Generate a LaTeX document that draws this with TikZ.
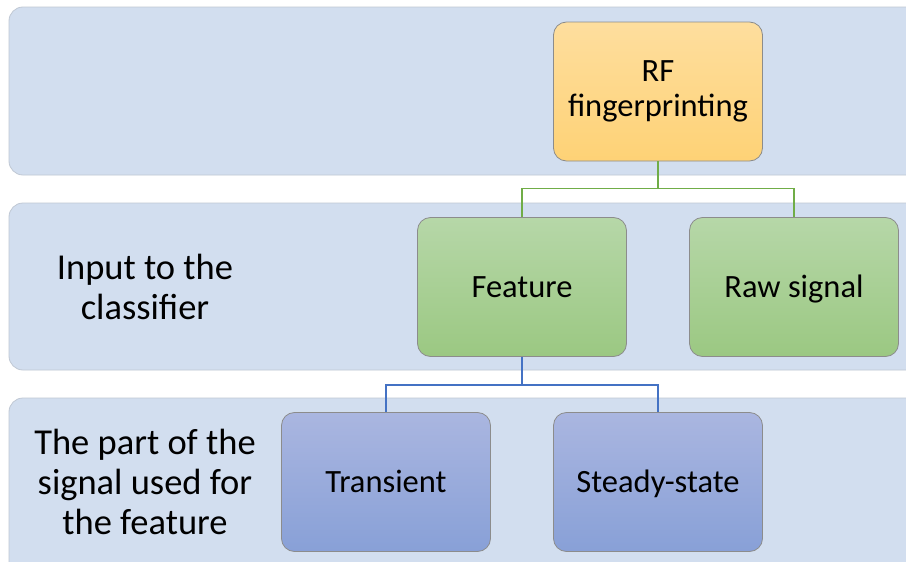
\documentclass[tikz,border=0pt]{standalone}
\usepackage{fontspec}
\setmainfont{Carlito}
\definecolor{bandfill}{RGB}{210,222,239}
\definecolor{bandline}{RGB}{192,200,212}
\definecolor{orT}{RGB}{254,222,158}
\definecolor{orB}{RGB}{254,210,118}
\definecolor{grT}{RGB}{182,215,168}
\definecolor{grB}{RGB}{155,200,130}
\definecolor{blT}{RGB}{170,182,224}
\definecolor{blB}{RGB}{136,160,215}
\definecolor{grline}{RGB}{112,173,71}
\definecolor{blline}{RGB}{68,114,196}
\begin{document}
\begin{tikzpicture}[x=1pt,y=-1pt,
  band/.style={fill=bandfill,draw=bandline,line width=0.8pt,rounded corners=14pt},
  box/.style={draw=black!45,line width=0.8pt,rounded corners=13pt,minimum width=209pt,minimum height=139pt,align=center,inner sep=0pt,font=\fontsize{32.5}{35}\selectfont},
  oneline/.style={text height=25pt,text depth=5pt},
  orbox/.style={box,top color=orT,bottom color=orB},
  grbox/.style={box,oneline,top color=grT,bottom color=grB},
  blbox/.style={box,oneline,top color=blT,bottom color=blB},
  lbl/.style={align=center,inner sep=0pt,font=\fontsize{36.5}{40}\selectfont},
  gl/.style={draw=grline,line width=1.4pt},
  bl/.style={draw=blline,line width=1.4pt}]
\useasboundingbox (0,0) rectangle (906,562);
\fill[white] (0,0) rectangle (906,562);
\path[band] (9,7) rectangle (930,175);
\path[band] (9,203) rectangle (930,370);
\path[band] (9,398) rectangle (930,590);
\node[orbox] (rf) at (658,91.5) {RF\\fingerprinting};
\node[grbox] (feat) at (522,287) {Feature};
\node[grbox] (raw) at (794,287) {Raw signal};
\node[blbox] (tr) at (386,482) {Transient};
\node[blbox] (ss) at (658,482) {Steady-state};
\node[lbl] (l2) at (145,287) {Input to the\\classifier};
\node[lbl] (l3) at (145,482) {The part of the\\signal used for\\the feature};
\draw[gl] (rf.south) -- ++(0,27) -| (feat.north);
\draw[gl] (rf.south) -- ++(0,27) -| (raw.north);
\draw[bl] (feat.south) -- ++(0,28) -| (tr.north);
\draw[bl] (feat.south) -- ++(0,28) -| (ss.north);
\end{tikzpicture}
\end{document}
